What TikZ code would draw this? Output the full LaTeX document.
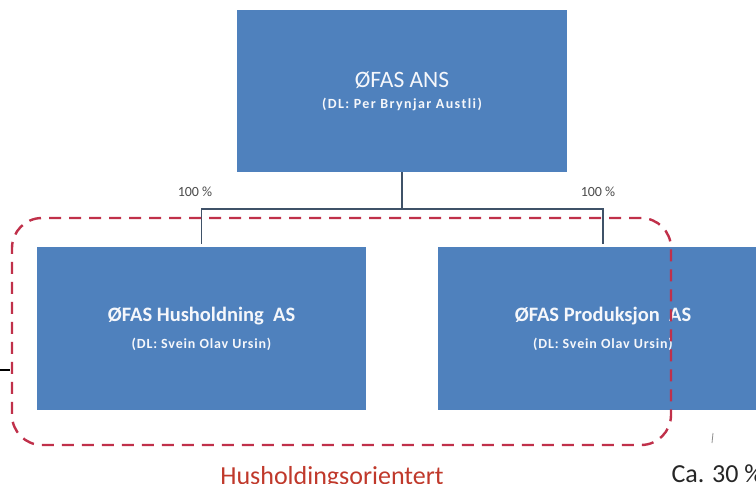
\documentclass[tikz,border=0pt]{standalone}
\usepackage{fontspec}
\setmainfont{Carlito}
\usetikzlibrary{arrows, arrows.meta}
\usetikzlibrary{calc}

\definecolor{ofasblue}{HTML}{4F81BD}
\definecolor{linkgray}{HTML}{3F5268}
\definecolor{groupred}{HTML}{C0304A}
\definecolor{labelred}{HTML}{C0392B}

\tikzset{
  orgbox/.style={rectangle, fill=ofasblue, inner sep=0pt, align=center, text=white!94!ofasblue},
  link/.style={draw=linkgray, line width=1.5pt},
  groupbox/.style={draw=groupred, line width=2.4pt, dash pattern=on 12pt off 8pt, rounded corners=30pt, inner sep=0pt},
  pct/.style={font=\fontsize{14}{16}\selectfont, text=black!70},
}

\begin{document}
\begin{tikzpicture}[x=1pt, y=-1pt]
      \clip (0,0) rectangle (756,483);
      \fill[white] (0,0) rectangle (756,483);

      \node[orgbox, minimum width=330pt, minimum height=162pt] (ans) at (402,91)
        {{\fontsize{23.5}{25}\selectfont ØFAS ANS}\\[9pt]{\bfseries\fontsize{14}{16}\selectfont\addfontfeatures{LetterSpace=10} (DL: Per Brynjar Austli)}};
      \node[orgbox, minimum width=329pt, minimum height=163pt] (hus) at (201.5,328.5)
        {{\bfseries\fontsize{20.5}{22}\selectfont ØFAS Husholdning\ \ AS}\\[12pt]{\bfseries\fontsize{14}{16}\selectfont\addfontfeatures{LetterSpace=6} (DL: Svein Olav Ursin)}};
      \node[orgbox, minimum width=330pt, minimum height=163pt] (prod) at (603,328.5)
        {{\bfseries\fontsize{20.5}{22}\selectfont ØFAS Produksjon\ \ AS}\\[12pt]{\bfseries\fontsize{14}{16}\selectfont\addfontfeatures{LetterSpace=6} (DL: Svein Olav Ursin)}};

      \coordinate (split) at (402,209);
      \draw[link] (ans) -- (split);
      \draw[link, shorten >=3pt] (split) -| (hus);
      \draw[link, shorten >=3pt] (split) -| (prod);

      \node[pct] (pcthus) at (195,192) {100 \%};
      \node[pct] (pctprod) at (598,192) {100 \%};

      \node[groupbox, minimum width=659pt, minimum height=227pt] (hushold) at (341.5,331.5) {};
      \node[anchor=base, text=labelred, font=\fontsize{26}{28}\selectfont] (husholdlabel) at (332,484) {Husholdingsorientert};
      \node[anchor=base west, text=black!85, font=\fontsize{26}{28}\selectfont] (prodlabel) at (668,482) {Ca. 30 \%};

      \coordinate (offleft) at (0,370);
      \coordinate (offleftend) at (10,370);
      \draw[line width=1.2pt] (offleft) -- (offleftend);
      \coordinate (ticktop) at (713,433);
      \coordinate (tickbot) at (712,443);
      \draw[black!45, line width=0.8pt] (ticktop) -- (tickbot);
    \end{tikzpicture}
\end{document}
